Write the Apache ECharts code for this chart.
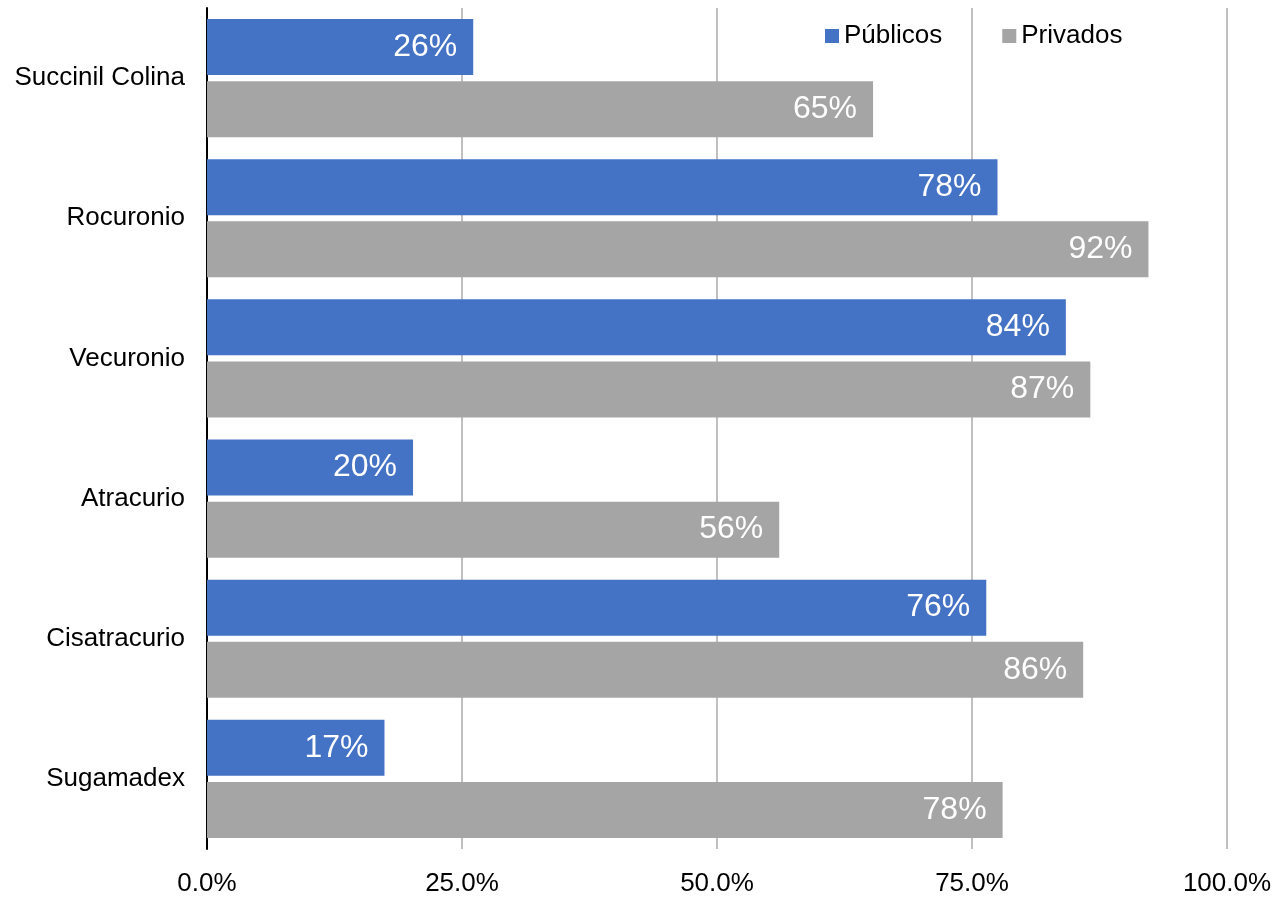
<!DOCTYPE html>
<html>
<head>
<meta charset="utf-8">
<script src="https://cdn.jsdelivr.net/npm/echarts@6/dist/echarts.min.js"></script>
<style>
html,body{margin:0;padding:0;background:#fff;}
#chart{width:1283px;height:897px;}
</style>
</head>
<body>
<div id="chart"></div>
<script>
const categories = ['Succinil Colina', 'Rocuronio', 'Vecuronio', 'Atracurio', 'Cisatracurio', 'Sugamadex'];
const publicos = [26.1, 77.5, 84.2, 20.2, 76.4, 17.4];
const privados = [65.3, 92.3, 86.6, 56.1, 85.9, 78.0];
const seriesNames = ['Públicos', 'Privados'];
const xTicks = [0, 25, 50, 75, 100];

const font = 'Liberation Sans, Arial, sans-serif';
const chart = echarts.init(document.getElementById('chart'));
const labelCfg = {
  show: true,
  position: 'insideRight',
  distance: 16,
  color: '#ffffff',
  fontSize: 32,
  fontFamily: font,
  formatter: p => Math.round(p.value) + '%'
};
chart.setOption({
  animation: false,
  backgroundColor: '#ffffff',
  grid: { left: 207, right: 56, top: 8, bottom: 48 },
  legend: {
    left: 820, top: 18,
    itemWidth: 14, itemHeight: 14, itemGap: 60,
    icon: 'rect',
    textStyle: { fontSize: 26, fontFamily: font, color: '#000' },
    data: seriesNames
  },
  xAxis: {
    type: 'value', min: xTicks[0], max: xTicks[xTicks.length - 1], interval: 25,
    axisLine: { show: false },
    axisTick: { show: false },
    splitLine: { show: true, lineStyle: { color: '#c0c0c0', width: 2 } },
    axisLabel: {
      fontSize: 26, fontFamily: font, color: '#000', margin: 22,
      formatter: v => v.toFixed(1) + '%',
      showMinLabel: true, showMaxLabel: true
    }
  },
  yAxis: {
    type: 'category', data: categories, inverse: true,
    axisLine: { show: true, lineStyle: { color: '#000', width: 2 } },
    axisTick: { show: false },
    axisLabel: { fontSize: 26, fontFamily: font, color: '#000', margin: 22 }
  },
  series: [
    { name: seriesNames[0], type: 'bar', data: publicos, barWidth: 56, barGap: '11%',
      itemStyle: { color: '#4472C4' }, label: labelCfg },
    { name: seriesNames[1], type: 'bar', data: privados, barWidth: 56, barGap: '11%',
      itemStyle: { color: '#A5A5A5' }, label: labelCfg }
  ]
});
</script>
</body>
</html>
